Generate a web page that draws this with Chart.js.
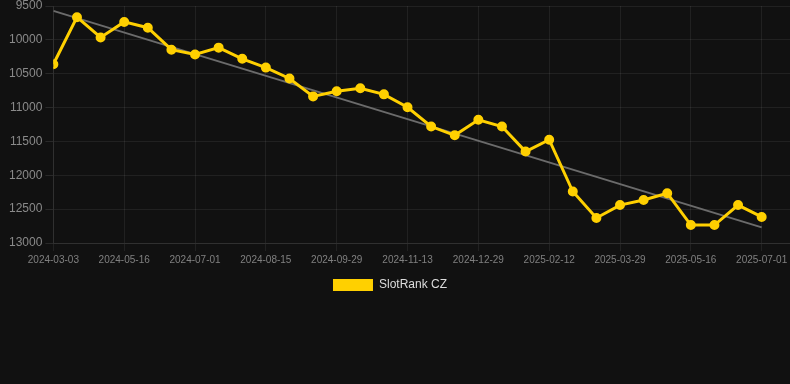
<!DOCTYPE html>
<html>
<head>
<meta charset="utf-8">
<script src="https://cdn.jsdelivr.net/npm/chart.js@4.4.1/dist/chart.umd.min.js"></script>
<style>
    html, body { margin: 0; padding: 0; background: #111111; }
    #wrap { position: relative; width: 790px; height: 301px; }
</style>
</head>
<body>
<div id="wrap"><canvas id="rank-chart"></canvas></div>
<script>
// Shown date ticks, one every third point
const tickLabels = ['2024-03-03', '2024-05-16', '2024-07-01', '2024-08-15', '2024-09-29', '2024-11-13',
    '2024-12-29', '2025-02-12', '2025-03-29', '2025-05-16', '2025-07-01'];

// SlotRank CZ rank per point (lower is better, axis reversed)
const rankValues = [10360, 9665, 9965, 9735, 9820, 10145, 10215, 10115, 10280, 10410, 10570,
    10835, 10760, 10715, 10805, 10995, 11280, 11410, 11180, 11280, 11650, 11475,
    12240, 12630, 12440, 12365, 12265, 12735, 12735, 12440, 12615];

// Trend line end values
const trendStart = 9572;
const trendEnd = 12769;

const yTicks = { min: 9500, max: 13000, step: 500 };

document.addEventListener('DOMContentLoaded', () => {
    Chart.defaults.font.family = "'Liberation Sans', Arial, sans-serif";
    Chart.defaults.color = '#8a8a8a';

    const lastIndex = rankValues.length - 1;
    const rankPoints = rankValues.map((v, i) => ({ x: i, y: v }));
    const trendPoints = [{ x: 0, y: trendStart }, { x: lastIndex, y: trendEnd }];

    const gridColor = 'rgba(255, 255, 255, 0.07)';

    // nudge the legend a little to the left, like the original
    const legendShift = {
        id: 'legendShift',
        afterLayout(chart) {
            if (chart.legend) {
                chart.legend.left -= 8;
                chart.legend.right -= 8;
            }
        }
    };

    new Chart(document.getElementById('rank-chart').getContext('2d'), {
        type: 'line',
        data: {
            datasets: [
                {
                    label: 'SlotRank CZ',
                    data: rankPoints,
                    borderColor: '#FFD000',
                    backgroundColor: '#FFD000',
                    borderWidth: 3,
                    pointRadius: 4,
                    pointBorderWidth: 2,
                    pointBackgroundColor: '#FFD000',
                    pointBorderColor: '#FFD000',
                    tension: 0,
                    order: 1
                },
                {
                    label: 'trend',
                    data: trendPoints,
                    borderColor: '#6b6b6b',
                    borderWidth: 2,
                    pointRadius: 0,
                    order: 2
                }
            ]
        },
        options: {
            responsive: true,
            maintainAspectRatio: false,
            animation: false,
            layout: { autoPadding: false, padding: { left: 6, right: 0, top: 0, bottom: 0 } },
            plugins: {
                legend: {
                    position: 'bottom',
                    labels: {
                        color: '#dddddd',
                        font: { size: 12 },
                        boxWidth: 40,
                        boxHeight: 12,
                        generateLabels: chart => Chart.defaults.plugins.legend.labels.generateLabels(chart)
                            .filter(item => item.text !== 'trend')
                            .map(item => Object.assign(item, { lineWidth: 0 }))
                    }
                },
                tooltip: { enabled: false }
            },
            scales: {
                x: {
                    type: 'linear',
                    min: 0,
                    max: 31.2,
                    afterFit: scale => { scale.paddingRight = 0; },
                    grid: { color: gridColor },
                    border: { color: gridColor },
                    ticks: {
                        stepSize: 3,
                        includeBounds: false,
                        autoSkip: false,
                        maxRotation: 0,
                        font: { size: 10 },
                        color: '#808080',
                        callback: v => tickLabels[v / 3] || ''
                    }
                },
                y: {
                    reverse: true,
                    min: yTicks.min,
                    max: yTicks.max,
                    afterFit: scale => { scale.paddingTop = 6; },
                    grid: { color: gridColor, tickColor: 'rgba(255, 255, 255, 0.1)' },
                    border: { color: gridColor },
                    ticks: {
                        stepSize: yTicks.step,
                        font: { size: 12 },
                        color: '#8a8a8a',
                        callback: v => String(v)
                    }
                }
            }
        },
        plugins: [legendShift]
    });
});
</script>
</body>
</html>
